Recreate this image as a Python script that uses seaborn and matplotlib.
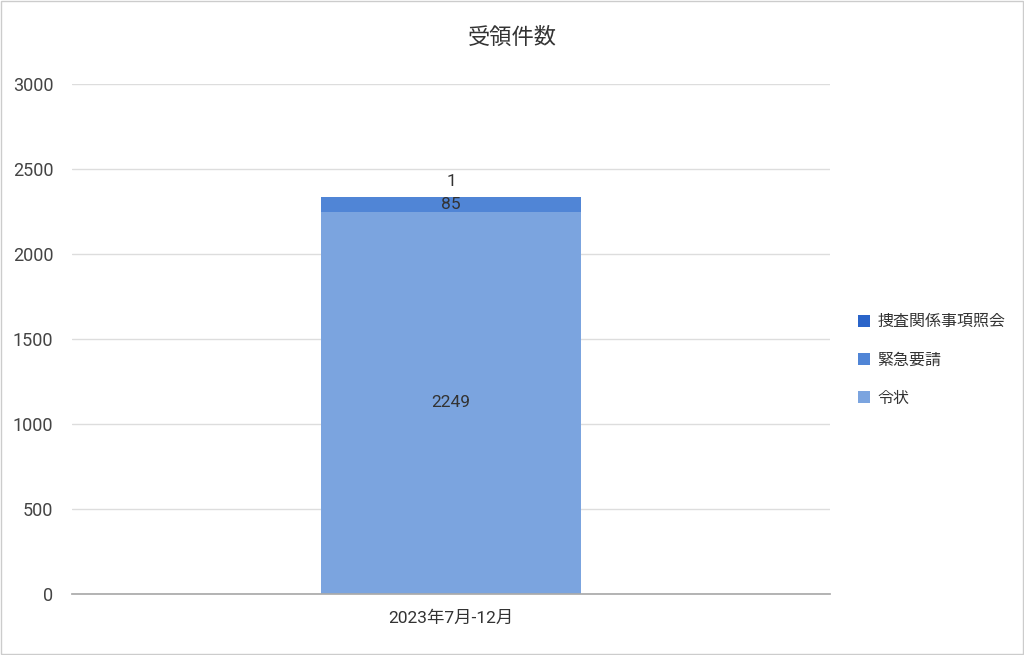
import matplotlib
matplotlib.use("Agg")
import matplotlib.pyplot as plt
import seaborn as sns
import pandas as pd
from matplotlib.patches import Patch

categories = ["2023年7月-12月"]
series_names = ["令状", "緊急要請", "捜査関係事項照会"]
reijo = [2249]
kinkyu = [85]
sousa = [1]
colors = ["#7BA4DF", "#5085D6", "#2A64C9"]
yticks = [0, 500, 1000, 1500, 2000, 2500, 3000]

sns.set_theme(style="white")
plt.rcParams['font.family'] = ['Roboto', 'Noto Sans CJK JP', 'DejaVu Sans']

fig = plt.figure(figsize=(10.24, 6.55), dpi=100)
ax = fig.add_axes([72/1024, 1-594/655, (830-72)/1024, (594-84)/655])

values = [reijo, kinkyu, sousa]
bottom = [0.0] * len(categories)
for name, vals, col in zip(series_names, values, colors):
    df = pd.DataFrame({"cat": categories, "val": vals})
    sns.barplot(data=df, x="cat", y="val", ax=ax, color=col, width=0.344,
                bottom=bottom, saturation=1, edgecolor="none")
    bottom = [b + v for b, v in zip(bottom, vals)]

containers = ax.containers
ax.bar_label(containers[0], labels=[str(v) for v in reijo], label_type="center",
             fontsize=12.5, color="#333333")
ax.bar_label(containers[1], labels=[str(v) for v in kinkyu], label_type="center",
             fontsize=12.5, color="#333333")
ax.bar_label(containers[2], labels=[str(v) for v in sousa], label_type="edge",
             padding=6, fontsize=12.5, color="#333333")

ax.set_xlim(-0.5, 0.5)
ax.set_ylim(0, 3000)
ax.set_yticks(yticks)
ax.set_yticklabels([str(t) for t in yticks])
ax.grid(axis="y", color="#dddddd", linewidth=1)
ax.set_axisbelow(True)
for s in ["top", "right", "left"]:
    ax.spines[s].set_visible(False)
ax.spines["bottom"].set_color("#aaaaaa")
ax.tick_params(axis="y", length=0, pad=13.5, labelsize=13, labelcolor="#444444")
ax.tick_params(axis="x", length=0, pad=12, labelsize=12.5, labelcolor="#333333")
ax.set_xlabel("")
ax.set_ylabel("")

fig.suptitle("受領件数", y=1-38/655, va="center", fontsize=16, color="#333333")

handles = [Patch(facecolor=c, edgecolor="none") for c in colors[::-1]]
fig.legend(handles, series_names[::-1], loc="upper left",
           bbox_to_anchor=(844/1024, 1-300/655), frameon=False,
           fontsize=11.5, handlelength=0.75, handleheight=0.75,
           handletextpad=0.45, labelspacing=1.45, labelcolor="#333333")

fig.patches.append(plt.Rectangle((0.0005, 0.0008), 0.999, 0.998, transform=fig.transFigure,
                                 fill=False, edgecolor="#cccccc", linewidth=1))
fig.savefig("out.png", dpi=100)
